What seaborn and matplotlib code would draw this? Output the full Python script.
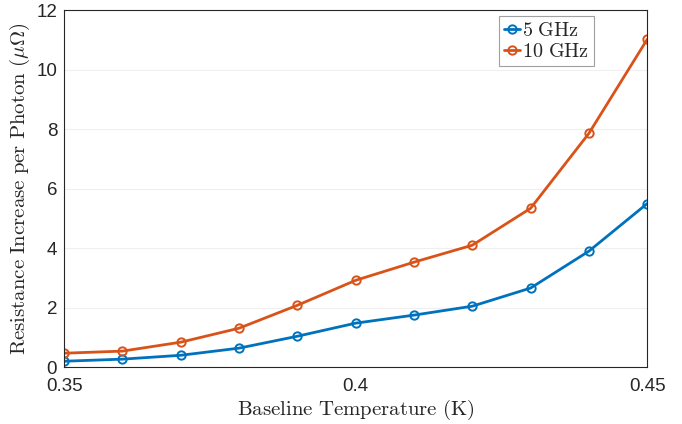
import matplotlib
matplotlib.use("Agg")
import matplotlib.pyplot as plt
import seaborn as sns
import pandas as pd

# -------- DATA --------
temperature = [0.35, 0.36, 0.37, 0.38, 0.39, 0.40, 0.41, 0.42, 0.43, 0.44, 0.45]
res_5ghz = [0.20, 0.27, 0.40, 0.64, 1.04, 1.48, 1.75, 2.05, 2.66, 3.90, 5.50]
res_10ghz = [0.47, 0.54, 0.84, 1.31, 2.08, 2.92, 3.53, 4.10, 5.34, 7.86, 11.02]
series_names = ["5 GHz", "10 GHz"]
colors = ["#0072BD", "#D95319"]
# ----------------------

df = pd.DataFrame({
    "T": temperature * 2,
    "R": res_5ghz + res_10ghz,
    "f": [series_names[0]] * len(temperature) + [series_names[1]] * len(temperature),
})

sns.set_style("white")
plt.rcParams["font.family"] = ["Liberation Sans", "DejaVu Sans"]
plt.rcParams["mathtext.fontset"] = "cm"

fig, ax = plt.subplots(figsize=(6.82, 4.24), dpi=100)
sns.lineplot(data=df, x="T", y="R", hue="f", palette=colors, marker="o",
             markersize=6, markerfacecolor="none", markeredgewidth=1.4,
             linewidth=2, ax=ax, legend=False)
lines = ax.get_lines()
for line, c in zip(lines, colors):
    line.set_markeredgecolor(c)

ax.set_xlim(0.35, 0.45)
ax.set_ylim(0, 12)
ax.set_xticks([0.35, 0.4, 0.45])
ax.set_xticklabels(["0.35", "0.4", "0.45"])
ax.set_yticks(range(0, 13, 2))
ax.tick_params(direction="in", labelsize=13.5, length=4, color="#262626")
ax.tick_params(axis="x", pad=8)
ax.tick_params(axis="y", pad=5)
ax.yaxis.grid(True, color="#efefef", linewidth=0.8)
for s in ax.spines.values():
    s.set_color("#262626")
    s.set_linewidth(0.8)

ax.set_xlabel(r"$\mathrm{Baseline\ Temperature\ (K)}$", fontsize=15, labelpad=2)
ax.set_ylabel(r"$\mathrm{Resistance\ Increase\ per\ Photon\ (\mu\Omega)}$", fontsize=15, labelpad=3)

labels = [r"$\mathrm{" + n.replace(" ", r"\ ") + "}$" for n in series_names]
leg = ax.legend(lines[:2], labels, loc="upper right", bbox_to_anchor=(0.909, 0.985),
                frameon=True, fancybox=False, fontsize=14.5, handlelength=0.8,
                handletextpad=0.1, borderpad=0.25, labelspacing=0.1, borderaxespad=0)
leg.get_frame().set_edgecolor("#888888")
leg.get_frame().set_linewidth(0.8)

fig.subplots_adjust(left=0.094, right=0.949, top=0.976, bottom=0.134)
fig.savefig("out.png", dpi=100)
